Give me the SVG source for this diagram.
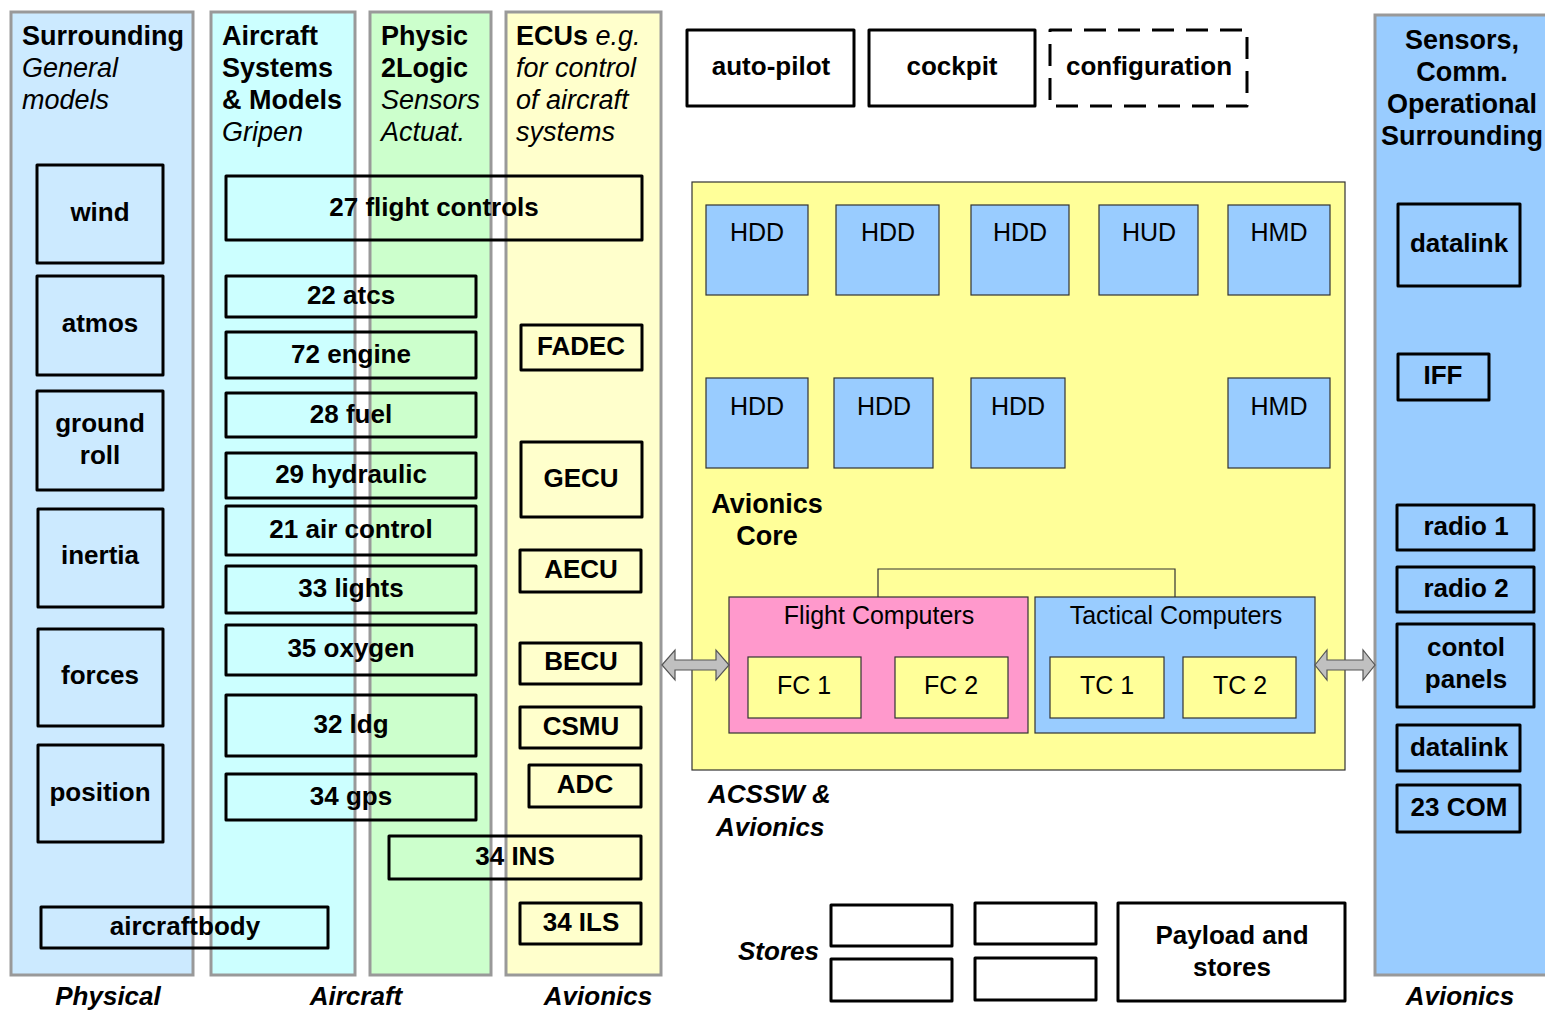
<svg xmlns="http://www.w3.org/2000/svg" width="1545" height="1011" viewBox="0 0 1545 1011">
<style>
text{font-family:"Liberation Sans",Arial,sans-serif;fill:#000}
.col{stroke:#999;stroke-width:3}
.b{fill:none;stroke:#000;stroke-width:3;stroke-linejoin:round}
.bl{font-weight:bold;font-size:26px;text-anchor:middle}
.hd{font-weight:bold;font-size:27px}
.it{font-style:italic;font-size:27px}
.hc{font-weight:bold;font-size:27px;text-anchor:middle}
.bi{font-weight:bold;font-style:italic;font-size:26px}
.disp{fill:#99CCFF;stroke:#333;stroke-width:1.2}
.dt{font-size:25px;text-anchor:middle}
.thin{fill:none;stroke:#333;stroke-width:1.2}
.arr{fill:#C0C0C0;stroke:#555;stroke-width:1.2}
</style>
<rect width="1545" height="1011" fill="#fff"/>
<g id="columns">
<rect id="col-physical" class="col" x="11" y="12" width="182" height="963" fill="#CCEAFF"/>
<rect id="col-aircraft" class="col" x="211" y="12" width="144" height="963" fill="#CCFFFF"/>
<rect id="col-physic" class="col" x="370" y="12" width="121" height="963" fill="#CCFFCC"/>
<rect id="col-ecu" class="col" x="506" y="12" width="155" height="963" fill="#FFFFCC"/>
<rect id="col-sensors" class="col" x="1375" y="15" width="175" height="960" fill="#99CCFF"/>
</g>
<g id="headers">
<text class="hd" x="22" y="45">Surrounding</text>
<text class="it" x="22" y="77">General</text>
<text class="it" x="22" y="109">models</text>
<text class="hd" x="222" y="45">Aircraft</text>
<text class="hd" x="222" y="77">Systems</text>
<text class="hd" x="222" y="109">&amp; Models</text>
<text class="it" x="222" y="141">Gripen</text>
<text class="hd" x="381" y="45">Physic</text>
<text class="hd" x="381" y="77">2Logic</text>
<text class="it" x="381" y="109">Sensors</text>
<text class="it" x="381" y="141">Actuat.</text>
<text x="516" y="45" font-size="27"><tspan font-weight="bold">ECUs</tspan><tspan font-style="italic"> e.g.</tspan></text>
<text class="it" x="516" y="77">for control</text>
<text class="it" x="516" y="109">of aircraft</text>
<text class="it" x="516" y="141">systems</text>
<text class="hc" x="1462" y="49">Sensors,</text>
<text class="hc" x="1462" y="81">Comm.</text>
<text class="hc" x="1462" y="113">Operational</text>
<text class="hc" x="1462" y="145">Surrounding</text>
</g>
<g id="footer">
<text class="bi" x="108" y="1005" text-anchor="middle">Physical</text>
<text class="bi" x="356" y="1005" text-anchor="middle">Aircraft</text>
<text class="bi" x="598" y="1005" text-anchor="middle">Avionics</text>
<text class="bi" x="1460" y="1005" text-anchor="middle">Avionics</text>
<text class="bi" x="708" y="803">ACSSW &amp;</text>
<text class="bi" x="716" y="836">Avionics</text>
<text class="bi" x="738" y="960">Stores</text>
</g>
<g id="n-wind"><rect class="b" x="37" y="165" width="126" height="98"/><text class="bl" x="100" y="221">wind</text></g>
<g id="n-atmos"><rect class="b" x="37" y="276" width="126" height="99"/><text class="bl" x="100" y="332">atmos</text></g>
<g id="n-groundroll"><rect class="b" x="37" y="391" width="126" height="99"/><text class="bl" x="100" y="432">ground</text><text class="bl" x="100" y="464">roll</text></g>
<g id="n-inertia"><rect class="b" x="38" y="509" width="125" height="98"/><text class="bl" x="100" y="564">inertia</text></g>
<g id="n-forces"><rect class="b" x="38" y="629" width="125" height="97"/><text class="bl" x="100" y="684">forces</text></g>
<g id="n-position"><rect class="b" x="38" y="745" width="125" height="97"/><text class="bl" x="100" y="801">position</text></g>
<g id="n-aircraftbody"><rect class="b" x="41" y="907" width="287" height="41"/><text class="bl" x="185" y="935">aircraftbody</text></g>
<g id="n-flightcontrols"><rect class="b" x="226" y="176" width="416" height="64"/><text class="bl" x="434" y="216">27 flight controls</text></g>
<g id="n-atcs"><rect class="b" x="226" y="276" width="250" height="41"/><text class="bl" x="351" y="304">22 atcs</text></g>
<g id="n-engine"><rect class="b" x="226" y="332" width="250" height="46"/><text class="bl" x="351" y="363">72 engine</text></g>
<g id="n-fuel"><rect class="b" x="226" y="393" width="250" height="44"/><text class="bl" x="351" y="423">28 fuel</text></g>
<g id="n-hydraulic"><rect class="b" x="226" y="453" width="250" height="45"/><text class="bl" x="351" y="483">29 hydraulic</text></g>
<g id="n-aircontrol"><rect class="b" x="226" y="506" width="250" height="49"/><text class="bl" x="351" y="538">21 air control</text></g>
<g id="n-lights"><rect class="b" x="226" y="566" width="250" height="47"/><text class="bl" x="351" y="597">33 lights</text></g>
<g id="n-oxygen"><rect class="b" x="226" y="625" width="250" height="50"/><text class="bl" x="351" y="657">35 oxygen</text></g>
<g id="n-ldg"><rect class="b" x="226" y="695" width="250" height="61"/><text class="bl" x="351" y="733">32 ldg</text></g>
<g id="n-gps"><rect class="b" x="226" y="774" width="250" height="46"/><text class="bl" x="351" y="805">34 gps</text></g>
<g id="n-ins"><rect class="b" x="389" y="836" width="252" height="43"/><text class="bl" x="515" y="865">34 INS</text></g>
<g id="n-fadec"><rect class="b" x="521" y="325" width="121" height="45"/><text class="bl" x="581" y="355">FADEC</text></g>
<g id="n-gecu"><rect class="b" x="521" y="442" width="121" height="75"/><text class="bl" x="581" y="487">GECU</text></g>
<g id="n-aecu"><rect class="b" x="520" y="550" width="121" height="42"/><text class="bl" x="581" y="578">AECU</text></g>
<g id="n-becu"><rect class="b" x="520" y="643" width="121" height="41"/><text class="bl" x="581" y="670">BECU</text></g>
<g id="n-csmu"><rect class="b" x="520" y="707" width="121" height="41"/><text class="bl" x="581" y="735">CSMU</text></g>
<g id="n-adc"><rect class="b" x="529" y="765" width="112" height="42"/><text class="bl" x="585" y="793">ADC</text></g>
<g id="n-ils"><rect class="b" x="520" y="903" width="121" height="41"/><text class="bl" x="581" y="931">34 ILS</text></g>
<g id="n-autopilot"><rect class="b" x="687" y="30" width="167" height="76"/><text class="bl" x="771" y="75">auto-pilot</text></g>
<g id="n-cockpit"><rect class="b" x="869" y="30" width="166" height="76"/><text class="bl" x="952" y="75">cockpit</text></g>
<g id="n-configuration"><rect class="b" x="1050" y="30" width="197" height="76" stroke-dasharray="22 12"/><text class="bl" x="1149" y="75">configuration</text></g>
<g id="n-avionicscore">
<rect x="692" y="182" width="653" height="588" fill="#FFFF99" stroke="#333" stroke-width="1.2"/>
<text class="hd" x="767" y="513" text-anchor="middle">Avionics</text>
<text class="hd" x="767" y="545" text-anchor="middle">Core</text>
</g>
<g id="n-hdd1"><rect class="disp" x="706" y="205" width="102" height="90"/><text class="dt" x="757" y="241">HDD</text></g>
<g id="n-hdd2"><rect class="disp" x="836" y="205" width="103" height="90"/><text class="dt" x="888" y="241">HDD</text></g>
<g id="n-hdd3"><rect class="disp" x="971" y="205" width="98" height="90"/><text class="dt" x="1020" y="241">HDD</text></g>
<g id="n-hud"><rect class="disp" x="1099" y="205" width="99" height="90"/><text class="dt" x="1149" y="241">HUD</text></g>
<g id="n-hmd1"><rect class="disp" x="1228" y="205" width="102" height="90"/><text class="dt" x="1279" y="241">HMD</text></g>
<g id="n-hdd4"><rect class="disp" x="706" y="378" width="102" height="90"/><text class="dt" x="757" y="415">HDD</text></g>
<g id="n-hdd5"><rect class="disp" x="834" y="378" width="99" height="90"/><text class="dt" x="884" y="415">HDD</text></g>
<g id="n-hdd6"><rect class="disp" x="971" y="378" width="94" height="90"/><text class="dt" x="1018" y="415">HDD</text></g>
<g id="n-hmd2"><rect class="disp" x="1228" y="378" width="102" height="90"/><text class="dt" x="1279" y="415">HMD</text></g>
<g id="n-flightcomputers">
<rect x="729" y="597" width="299" height="136" fill="#FF99CC" stroke="#333" stroke-width="1.2"/>
<text class="dt" x="879" y="624">Flight Computers</text>
</g>
<g id="n-fc1"><rect x="748" y="657" width="113" height="61" fill="#FFFF99" stroke="#333" stroke-width="1.2"/><text class="dt" x="804" y="694">FC 1</text></g>
<g id="n-fc2"><rect x="895" y="657" width="113" height="61" fill="#FFFF99" stroke="#333" stroke-width="1.2"/><text class="dt" x="951" y="694">FC 2</text></g>
<g id="n-tacticalcomputers">
<rect x="1035" y="597" width="280" height="136" fill="#99CCFF" stroke="#333" stroke-width="1.2"/>
<text class="dt" x="1176" y="624">Tactical Computers</text>
</g>
<g id="n-tc1"><rect x="1050" y="657" width="114" height="61" fill="#FFFF99" stroke="#333" stroke-width="1.2"/><text class="dt" x="1107" y="694">TC 1</text></g>
<g id="n-tc2"><rect x="1183" y="657" width="113" height="61" fill="#FFFF99" stroke="#333" stroke-width="1.2"/><text class="dt" x="1240" y="694">TC 2</text></g>
<g id="n-datalink1"><rect class="b" x="1398" y="204" width="122" height="82"/><text class="bl" x="1459" y="252">datalink</text></g>
<g id="n-iff"><rect class="b" x="1398" y="354" width="91" height="46"/><text class="bl" x="1443" y="384">IFF</text></g>
<g id="n-radio1"><rect class="b" x="1397" y="505" width="137" height="45"/><text class="bl" x="1466" y="535">radio 1</text></g>
<g id="n-radio2"><rect class="b" x="1397" y="567" width="137" height="45"/><text class="bl" x="1466" y="597">radio 2</text></g>
<g id="n-controlpanels"><rect class="b" x="1397" y="624" width="137" height="83"/><text class="bl" x="1466" y="656">contol</text><text class="bl" x="1466" y="688">panels</text></g>
<g id="n-datalink2"><rect class="b" x="1397" y="725" width="123" height="46"/><text class="bl" x="1459" y="756">datalink</text></g>
<g id="n-com"><rect class="b" x="1397" y="785" width="123" height="47"/><text class="bl" x="1459" y="816">23 COM</text></g>
<g id="n-store1"><rect class="b" x="831" y="905" width="121" height="41"/></g>
<g id="n-store2"><rect class="b" x="831" y="959" width="121" height="42"/></g>
<g id="n-store3"><rect class="b" x="975" y="903" width="121" height="41"/></g>
<g id="n-store4"><rect class="b" x="975" y="958" width="121" height="42"/></g>
<g id="n-payload"><rect class="b" x="1118" y="903" width="227" height="98"/><text class="bl" x="1232" y="944">Payload and</text><text class="bl" x="1232" y="976">stores</text></g>
<g id="connectors">
<polyline class="thin" points="878,597 878,569 1175,569 1175,597"/>
<path class="arr" d="M662,665 L675,650 L675,660 L716,660 L716,650 L729,665 L716,680 L716,670 L675,670 L675,680 Z"/>
<path class="arr" d="M1315,665 L1327,650 L1327,660 L1363,660 L1363,650 L1375,665 L1363,680 L1363,670 L1327,670 L1327,680 Z"/>
</g>
</svg>
